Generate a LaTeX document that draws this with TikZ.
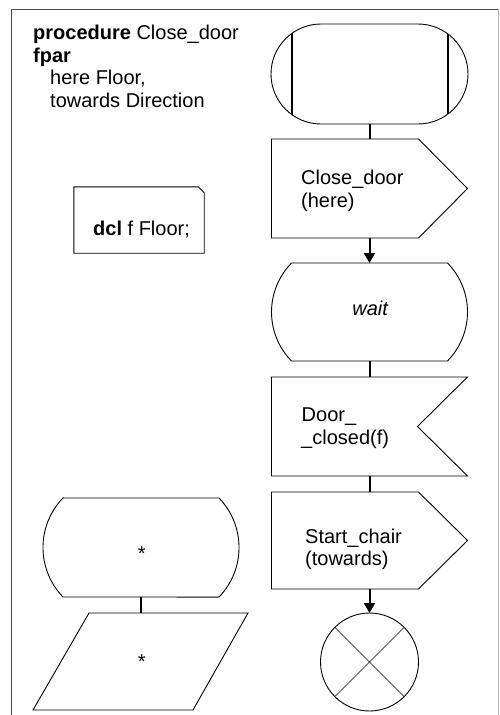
\documentclass[tikz,border=0pt]{standalone}
\usepackage{fontspec}
\setmainfont{Liberation Sans}
\usetikzlibrary{arrows.meta,shapes.misc,calc}
\begin{document}
\begin{tikzpicture}[x=1pt,y=1pt,
  outline/.style={draw=black, line width=0.9pt, line join=miter},
  frameline/.style={draw=black!70, line width=1pt},
  flow/.style={line width=2pt},
  flowarrow/.style={line width=2pt, -{Triangle[length=10pt,width=11pt]}},
  sym/.style={minimum width=196pt, inner sep=0pt, outer sep=0pt},
  lbl/.style={anchor=base west, inner sep=0pt, font=\fontsize{20}{22.5}\selectfont},
]
\useasboundingbox (0,0) rectangle (499,-715);

% page frame (open at the bottom)
\draw[frameline] (11,-720) -- (11,-9) -- (498,-9);
\draw[draw=black!30, line width=1pt] (498,-9) -- (498,-720);

% ---- procedure heading ----
\node[lbl] (proc1) at (33,-39.5) {\textbf{procedure} Close\_door};
\node[lbl] (proc2) at (33,-62) {\textbf{fpar}};
\node[lbl] (proc3) at (50,-84.5) {here Floor,};
\node[lbl] (proc4) at (50,-107) {towards Direction};

% ---- declaration text symbol ----
\node[minimum width=130pt, minimum height=66pt, inner sep=0pt] (dcl) at (139,-220) {};
\draw[outline] (dcl.north west) -- ([xshift=-6pt]dcl.north east)
  -- ([yshift=-6pt]dcl.north east) -- (dcl.south east) -- (dcl.south west) -- cycle;
\node[lbl] (dcltext) at (93,-235) {\textbf{dcl} f Floor;};

% ---- procedure start ----
\node[rounded rectangle, draw, line width=0.9pt, minimum width=197pt, minimum height=100pt,
  inner sep=0pt, outer sep=0pt,
  path picture={\draw[line width=2pt]
    ([xshift=-78pt]path picture bounding box.north) -- ([xshift=-78pt]path picture bounding box.south)
    ([xshift=78pt]path picture bounding box.north) -- ([xshift=78pt]path picture bounding box.south);}]
  (start) at (369.5,-74) {};

% ---- output Close_door(here) ----
\node[sym, minimum height=99pt] (out1) at (369.5,-188.5) {};
\draw[outline] (out1.north west) -- ([xshift=-49pt]out1.north east) -- (out1.east)
  -- ([xshift=-49pt]out1.south east) -- (out1.south west) -- cycle;
\node[lbl] (out1a) at (301,-184.3) {Close\_door};
\node[lbl] (out1b) at (301,-207.3) {(here)};

% ---- state wait ----
\node[sym, minimum height=98pt] (wait) at (369.5,-312) {};
\draw[outline] ([xshift=20pt]wait.north west) -- ([xshift=-20pt]wait.north east)
  arc[start angle=44.4, end angle=-44.4, radius=70pt]
  -- ([xshift=20pt]wait.south west)
  arc[start angle=224.4, end angle=135.6, radius=70pt] -- cycle;
\node[lbl, anchor=base] (waittext) at (370.5,-315.7) {\textit{wait}};

% ---- input Door_closed(f) ----
\node[sym, minimum height=99pt] (in1) at (369.5,-426.5) {};
\draw[outline] (in1.north west) -- (in1.north east) -- ([xshift=-50pt]in1.east)
  -- (in1.south east) -- (in1.south west) -- cycle;
\node[lbl] (in1a) at (301.5,-421.7) {Door\_};
\node[lbl] (in1b) at (301,-444.3) {\_closed(f)};

% ---- output Start_chair(towards) ----
\node[sym, minimum height=97pt] (out2) at (369.5,-540.5) {};
\draw[outline] (out2.north west) -- ([xshift=-49pt]out2.north east) -- (out2.east)
  -- ([xshift=-49pt]out2.south east) -- (out2.south west) -- cycle;
\node[lbl] (out2a) at (305,-543.3) {Start\_chair};
\node[lbl] (out2b) at (305,-565.7) {(towards)};

% ---- procedure stop ----
\node[circle, draw, line width=0.9pt, minimum size=98pt, inner sep=0pt, outer sep=0pt,
  path picture={\draw[line width=0.6pt]
    (path picture bounding box.north west) -- (path picture bounding box.south east)
    (path picture bounding box.north east) -- (path picture bounding box.south west);}]
  (stop) at (369.5,-662) {};

% ---- state * ----
\node[sym, minimum height=99pt] (state2) at (141,-547.5) {};
\draw[outline] ([xshift=20pt]state2.north west) -- ([xshift=-20pt]state2.north east)
  arc[start angle=44, end angle=-44, radius=71.3pt]
  -- ([xshift=20pt]state2.south west)
  arc[start angle=224, end angle=136, radius=71.3pt] -- cycle;
\node[lbl, anchor=base] (state2text) at (141.7,-560) {*};

% ---- input * (parallelogram) ----
\node[minimum width=215pt, minimum height=97pt, inner sep=0pt, outer sep=0pt] (para) at (140.5,-661.5) {};
\draw[outline] ([xshift=56pt]para.north west) -- (para.north east)
  -- ([xshift=-55pt]para.south east) -- (para.south west) -- cycle;
\node[lbl, anchor=base] (paratext) at (141.7,-668.5) {*};

% ---- flow lines ----
\draw[flow] (start.south) -- (out1.north);
\draw[flowarrow] (out1.south) -- (wait.north);
\draw[flow] (wait.south) -- (in1.north);
\draw[flow] (in1.south) -- (out2.north);
\draw[flowarrow] (out2.south) -- (stop.north);
\draw[flow] (state2.south) -- (state2.south |- para.north);
\end{tikzpicture}
\end{document}
